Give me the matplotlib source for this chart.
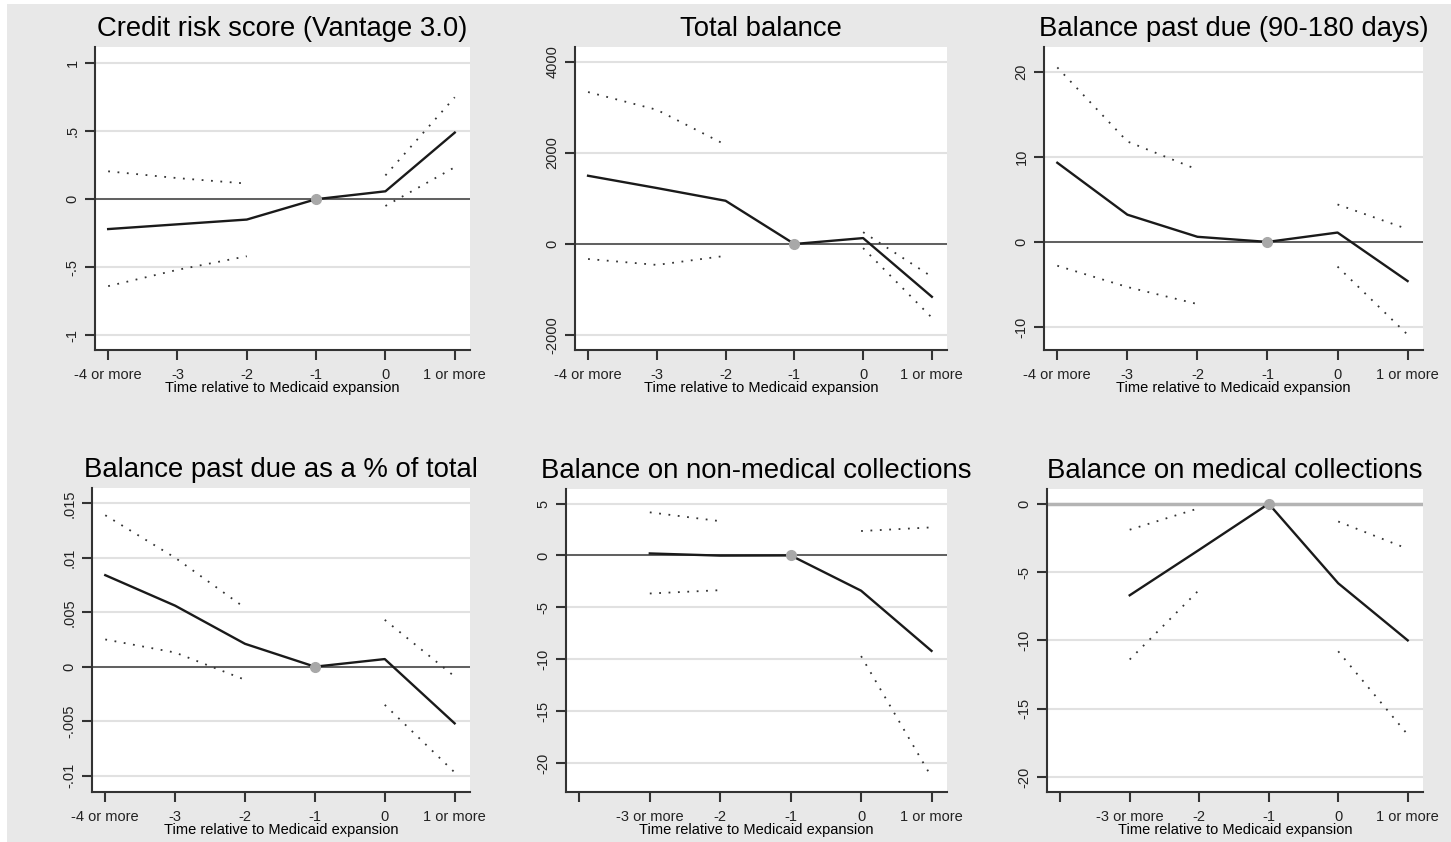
import matplotlib.pyplot as plt
import matplotlib.patches as mpatches
import numpy as np

plt.rcParams['font.family'] = ['Liberation Sans', 'DejaVu Sans']

nan = np.nan

# event-time positions (index 0 = "-4 or more")
positions = [0, 1, 2, 3, 4, 5]
labels_full = ['-4 or more', '-3', '-2', '-1', '0', '1 or more']
labels_short = ['', '-3 or more', '-2', '-1', '0', '1 or more']
xlabel = 'Time relative to Medicaid expansion'

titles = ['Credit risk score (Vantage 3.0)', 'Total balance',
          'Balance past due (90-180 days)', 'Balance past due as a % of total',
          'Balance on non-medical collections', 'Balance on medical collections']

# point estimates and 95% bounds (nan = not estimated / reference period)
credit_est = [-0.22, -0.185, -0.15, 0.0, 0.058, 0.49]
credit_hi = [0.205, 0.155, 0.115, nan, 0.175, 0.75]
credit_lo = [-0.64, -0.52, -0.42, nan, -0.05, 0.235]

total_est = [1500, 1230, 950, 0, 130, -1160]
total_hi = [3340, 2950, 2180, nan, 260, -720]
total_lo = [-330, -460, -260, nan, -90, -1620]

pastdue_est = [9.3, 3.2, 0.6, 0.0, 1.1, -4.6]
pastdue_hi = [20.5, 11.8, 8.5, nan, 4.4, 1.5]
pastdue_lo = [-2.8, -5.3, -7.3, nan, -2.9, -10.9]

pct_est = [0.0084, 0.0056, 0.0021, 0.0, 0.0007, -0.0052]
pct_hi = [0.0139, 0.0100, 0.0054, nan, 0.0043, -0.0009]
pct_lo = [0.0025, 0.0013, -0.0012, nan, -0.0035, -0.0097]

nonmed_est = [nan, 0.19, -0.02, 0.0, -3.4, -9.2]
nonmed_hi = [nan, 4.15, 3.3, nan, 2.35, 2.7]
nonmed_lo = [nan, -3.67, -3.35, nan, -9.7, -21.35]

med_est = [nan, -6.7, -3.37, 0.0, -5.82, -10.0]
med_hi = [nan, -1.9, -0.32, nan, -1.3, -3.3]
med_lo = [nan, -11.4, -6.3, nan, -10.8, -16.9]

yticks = [[-1, -0.5, 0, 0.5, 1],
          [-2000, 0, 2000, 4000],
          [-10, 0, 10, 20],
          [-0.01, -0.005, 0, 0.005, 0.01, 0.015],
          [-20, -15, -10, -5, 0, 5],
          [-20, -15, -10, -5, 0]]
ytick_labels = [['-1', '-.5', '0', '.5', '1'],
                ['-2000', '0', '2000', '4000'],
                ['-10', '0', '10', '20'],
                ['-.01', '-.005', '0', '.005', '.01', '.015'],
                ['-20', '-15', '-10', '-5', '0', '5'],
                ['-20', '-15', '-10', '-5', '0']]
ylims = [(-1.11, 1.12), (-2330, 4330), (-12.7, 22.9),
         (-0.0115, 0.0164), (-22.8, 6.4), (-21.1, 1.08)]

series = [(credit_est, credit_lo, credit_hi), (total_est, total_lo, total_hi),
          (pastdue_est, pastdue_lo, pastdue_hi), (pct_est, pct_lo, pct_hi),
          (nonmed_est, nonmed_lo, nonmed_hi), (med_est, med_lo, med_hi)]
xlabels_all = [labels_full, labels_full, labels_full,
               labels_full, labels_short, labels_short]

# axes boxes in pixels: left, right, top, bottom
W, H = 1451, 842
boxes = [(95, 470, 47, 350), (575, 947, 47, 350), (1044, 1423, 47, 350),
         (92, 470, 488, 792), (566, 947, 489, 792), (1047, 1423, 489, 792)]

fig = plt.figure(figsize=(W / 100, H / 100), dpi=100, facecolor='white')
# grey graph region (screenshot has a thin white strip on left/bottom)
fig.patches.append(mpatches.Rectangle((7 / W, 0), 1, 1 - 4 / H, transform=fig.transFigure,
                                      facecolor='#e8e8e8', edgecolor='none', zorder=-10))

for i in range(6):
    l, r, t, b = boxes[i]
    ax = fig.add_axes([l / W, 1 - b / H, (r - l) / W, (b - t) / H])
    ax.set_facecolor('white')
    est, lo, hi = series[i]

    for yv in yticks[i]:
        ax.axhline(yv, color='#e1e1e1', lw=1.5, zorder=1)
    if i == 5:
        ax.axhline(0, color='#b4b4b4', lw=2.5, zorder=2)
    else:
        ax.axhline(0, color='#555555', lw=1.3, zorder=2)

    ax.plot(positions, hi, color='#333333', lw=1.3, ls=(0, (1, 4.2)), zorder=3)
    ax.plot(positions, lo, color='#333333', lw=1.3, ls=(0, (1, 4.2)), zorder=3)
    ax.plot(positions, est, color='#1a1a1a', lw=1.7, zorder=4)
    ax.plot([3], [est[3]], 'o', color='#a8a8a8', ms=7, zorder=5)

    ax.set_xlim(-0.19, 5.22)
    ax.set_ylim(*ylims[i])
    ax.set_xticks(positions)
    ax.set_xticklabels(xlabels_all[i], fontsize=10.5)
    ax.set_yticks(yticks[i])
    ax.set_yticklabels(ytick_labels[i], fontsize=10.5, rotation=90, va='center')
    ax.set_xlabel(xlabel, fontsize=10.5, labelpad=-1)
    ax.set_title(titles[i], fontsize=19.8, pad=8)

    for s in ['top', 'right']:
        ax.spines[s].set_visible(False)
    for s in ['left', 'bottom']:
        ax.spines[s].set_color('#333333')
        ax.spines[s].set_linewidth(1.5)
    ax.tick_params(axis='x', length=7, width=1.5, color='#333333', labelcolor='#222222', pad=6)
    ax.tick_params(axis='y', length=7, width=1.5, color='#333333', labelcolor='#222222', pad=4)

plt.savefig('out.png', dpi=100, facecolor=fig.get_facecolor())
